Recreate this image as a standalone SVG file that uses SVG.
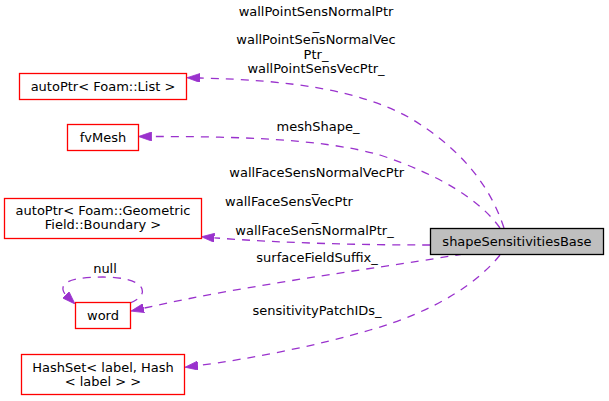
<svg xmlns="http://www.w3.org/2000/svg" width="609" height="401" viewBox="0 0 609 401">
<style>
text{font-family:"DejaVu Sans",sans-serif;font-size:13px;fill:#000;text-anchor:middle}
.n{fill:#fff;stroke:#ff0000;stroke-width:1.3}
.m{fill:#bfbfbf;stroke:#000;stroke-width:1.3}
.e{fill:none;stroke:#9a32cd;stroke-width:1.3;stroke-dasharray:8,7;marker-end:url(#ah)}
</style>
<defs>
<marker id="ah" markerUnits="userSpaceOnUse" markerWidth="13" markerHeight="9" viewBox="0 0 13 9" refX="0" refY="4.5" orient="auto">
<path d="M0,0 L13,4.5 L0,9 z" fill="#9a32cd" stroke="#9a32cd" stroke-width="0.8"/>
</marker>
</defs>
<rect width="609" height="401" fill="#fff"/>
<g id="connectors">
<path class="e" d="M504,228 C490,185 460,148 410,118 C360,90 290,80 200,78"/>
<path class="e" d="M500,228 C480,200 440,175 380,155 C320,138 230,136.5 151.5,136.5"/>
<path class="e" d="M430,245 C360,245 280,243 214.4,237.8"/>
<path class="e" d="M463,254 C400,265 250,284 143.7,308.2"/>
<path class="e" d="M500,255 C480,280 440,310 370,330 C320,345 250,359 197.9,365.6"/>
<path class="e" d="M130,303 C138,300 144,295 142,289 C139,280 120,277 103,277 C85,277 68,279 64,285 C62,288 63,292 65.8,294.8"/>
</g>
<g id="edge-labels">
<text x="316" y="16.2">wallPointSensNormalPtr</text>
<text x="316" y="30.3">_</text>
<text x="316" y="44.4">wallPointSensNormalVec</text>
<text x="316" y="58.5">Ptr_</text>
<text x="316" y="72.6">wallPointSensVecPtr_</text>
<text x="318" y="131">meshShape_</text>
<text x="316.7" y="177">wallFaceSensNormalVecPtr</text>
<text x="315" y="191.5">_</text>
<text x="289" y="206">wallFaceSensVecPtr</text>
<text x="315" y="220.5">_</text>
<text x="314.5" y="235">wallFaceSensNormalPtr_</text>
<text x="317" y="262">surfaceFieldSuffix_</text>
<text x="105" y="273">null</text>
<text x="317" y="315">sensitivityPatchIDs_</text>
</g>
<g id="node-main">
<rect class="m" x="430.5" y="228.5" width="173" height="26"/>
<text x="517" y="245.5">shapeSensitivitiesBase</text>
</g>
<g id="node-list">
<rect class="n" x="19.5" y="73.5" width="167" height="26"/>
<text x="103" y="90.5">autoPtr&lt; Foam::List &gt;</text>
</g>
<g id="node-fvmesh">
<rect class="n" x="67.5" y="124.5" width="71" height="26"/>
<text x="103" y="141.5">fvMesh</text>
</g>
<g id="node-geometric">
<rect class="n" x="4.5" y="198.5" width="197" height="40"/>
<text x="103" y="215">autoPtr&lt; Foam::Geometric</text>
<text x="103" y="229">Field::Boundary &gt;</text>
</g>
<g id="node-word">
<rect class="n" x="75.5" y="302.5" width="55" height="26"/>
<text x="103" y="319.5">word</text>
</g>
<g id="node-hashset">
<rect class="n" x="21.5" y="354.5" width="163" height="40"/>
<text x="103" y="371.5">HashSet&lt; label, Hash</text>
<text x="103" y="385.5">&lt; label &gt; &gt;</text>
</g>
</svg>
